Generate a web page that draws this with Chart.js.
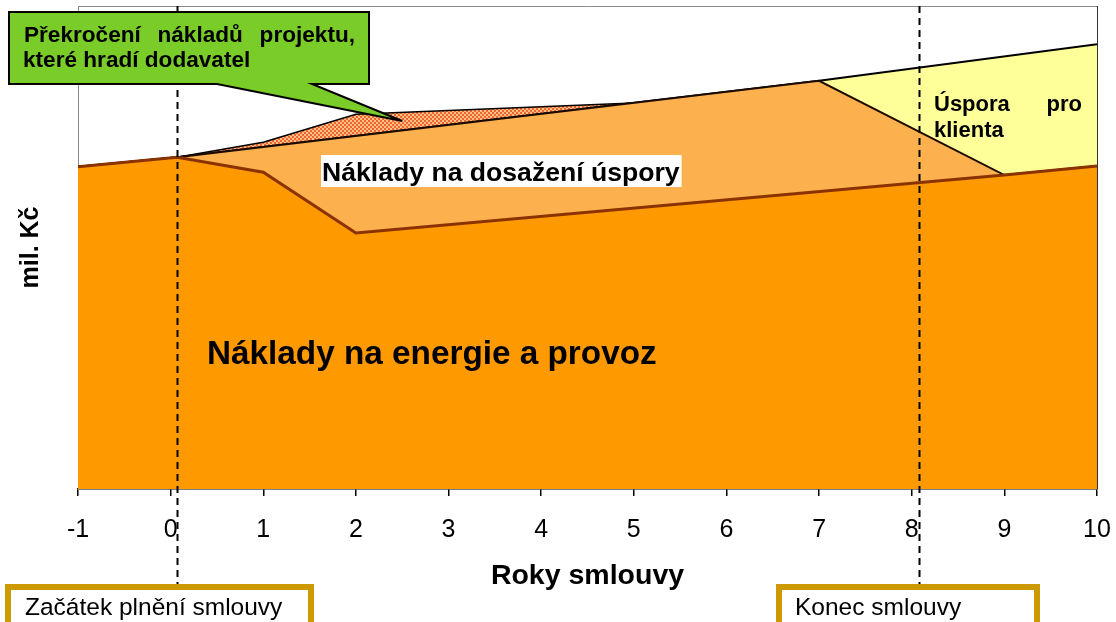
<!DOCTYPE html>
<html>
<head>
<meta charset="utf-8">
<script src="https://cdn.jsdelivr.net/npm/chart.js@4/dist/chart.umd.min.js"></script>
<style>
  html, body { margin: 0; padding: 0; background: #fff; }
  #stage { display: block; }
</style>
</head>
<body>
<canvas id="stage" width="1116" height="622"></canvas>
<script>
// roky smlouvy a náklady (mil. Kč, osa bez popisků)
const yearsEnergy   = [-1, 0.07, 1, 2, 9, 10];
const energyCost    = [66.7, 68.7, 65.6, 53.0, 65.0, 66.9];
const yearsSaving   = [-1, 0.07, 7, 9, 10];
const savingCost    = [66.7, 68.7, 84.5, 65.0, 66.9];
const yearsBaseline = [-1, 0.07, 7, 10];
const baselineCost  = [66.7, 68.7, 84.5, 92.1];
const yearsOverrun  = [0.07, 1, 2, 5];
const overrunCost   = [68.7, 71.8, 77.6, 79.9];
const milestones    = [0.07, 8.08];   // začátek plnění / konec smlouvy
const calloutTip    = [2.5, 76.2];    // kam míří bublina

const FONT = "'Liberation Sans', Arial, sans-serif";

function toPoints(xs, ys) {
  return xs.map((x, i) => ({x: x, y: ys[i]}));
}

// šrafování pro překročení nákladů
function makeHatch() {
  const c = document.createElement('canvas');
  c.width = 4; c.height = 4;
  const g = c.getContext('2d');
  g.fillStyle = '#FFC283';
  g.fillRect(0, 0, 4, 4);
  g.fillStyle = '#F06434';
  g.fillRect(0, 0, 2, 2);
  g.fillRect(2, 2, 2, 2);
  return g.createPattern(c, 'repeat');
}

function justified(ctx, words, x0, x1, y) {
  const widths = words.map(w => ctx.measureText(w).width);
  const total = widths.reduce((a, b) => a + b, 0);
  const gap = (x1 - x0 - total) / (words.length - 1);
  let x = x0;
  ctx.textAlign = 'left';
  words.forEach((w, i) => {
    ctx.fillText(w, x, y);
    x += widths[i] + gap;
  });
}

const annotations = {
  id: 'annotations',
  afterDraw(chart) {
    const ctx = chart.ctx;
    const xs = chart.scales.x, ys = chart.scales.y;
    const area = chart.chartArea;
    ctx.save();

    // rámeček grafu nahoře a vpravo
    ctx.strokeStyle = '#888';
    ctx.lineWidth = 1;
    ctx.beginPath();
    ctx.moveTo(area.left, area.top + 0.5);
    ctx.lineTo(area.right, area.top + 0.5);
    ctx.stroke();
    ctx.strokeStyle = '#333';
    ctx.beginPath();
    ctx.moveTo(area.right + 0.5, area.top);
    ctx.lineTo(area.right + 0.5, area.bottom);
    ctx.stroke();

    // svislé čárkované čáry
    ctx.strokeStyle = '#000';
    ctx.lineWidth = 2;
    ctx.setLineDash([7, 5]);
    milestones.forEach(m => {
      const px = Math.round(xs.getPixelForValue(m)) + 0.5;
      ctx.beginPath();
      ctx.moveTo(px, area.top);
      ctx.lineTo(px, 586);
      ctx.stroke();
    });
    ctx.setLineDash([]);

    ctx.fillStyle = '#000';
    ctx.textBaseline = 'alphabetic';

    // Náklady na dosažení úspory
    ctx.font = 'bold 26.6px ' + FONT;
    const t1 = 'Náklady na dosažení úspory';
    const w1 = ctx.measureText(t1).width;
    ctx.fillStyle = '#fff';
    ctx.fillRect(321, 155, w1 + 3, 32);
    ctx.fillStyle = '#000';
    ctx.textAlign = 'left';
    ctx.fillText(t1, 322, 181);

    // Úspora pro klienta
    ctx.font = 'bold 22px ' + FONT;
    justified(ctx, ['Úspora', 'pro'], 934, 1082, 111);
    ctx.fillText('klienta', 934, 137);

    // Náklady na energie a provoz
    ctx.font = 'bold 33.3px ' + FONT;
    ctx.fillText('Náklady na energie a provoz', 207, 364);

    // bublina
    const tipX = xs.getPixelForValue(calloutTip[0]);
    const tipY = ys.getPixelForValue(calloutTip[1]);
    ctx.beginPath();
    ctx.moveTo(9, 12);
    ctx.lineTo(369, 12);
    ctx.lineTo(369, 84);
    ctx.lineTo(312, 84);
    ctx.lineTo(tipX, tipY);
    ctx.lineTo(217, 84);
    ctx.lineTo(9, 84);
    ctx.closePath();
    ctx.fillStyle = '#7ACC29';
    ctx.fill();
    ctx.strokeStyle = '#000';
    ctx.lineWidth = 2;
    ctx.lineJoin = 'miter';
    ctx.stroke();
    ctx.fillStyle = '#000';
    ctx.font = 'bold 22.6px ' + FONT;
    justified(ctx, ['Překročení', 'nákladů', 'projektu,'], 24, 355, 42);
    ctx.fillText('které hradí dodavatel', 23, 67);

    // rámečky dole
    ctx.lineWidth = 6;
    ctx.strokeStyle = '#CC9900';
    ctx.fillStyle = '#fff';
    [[8, 587, 303], [779, 587, 258]].forEach(b => {
      ctx.fillRect(b[0], b[1], b[2], 60);
      ctx.strokeRect(b[0], b[1], b[2], 60);
    });
    ctx.fillStyle = '#000';
    ctx.font = '24.5px ' + FONT;
    ctx.fillText('Začátek plnění smlouvy', 25, 615);
    ctx.fillText('Konec smlouvy', 795, 615);

    ctx.restore();
  }
};

new Chart(document.getElementById('stage'), {
  type: 'line',
  data: {
    datasets: [
      {
        label: 'Náklady na energie a provoz',
        data: toPoints(yearsEnergy, energyCost),
        borderColor: '#8B3300',
        borderWidth: 3,
        backgroundColor: '#FF9900',
        fill: 'origin'
      },
      {
        label: 'Náklady na dosažení úspory',
        data: toPoints(yearsSaving, savingCost),
        borderColor: '#1A0A00',
        borderWidth: 2,
        backgroundColor: '#FDB04E',
        fill: '-1'
      },
      {
        label: 'Úspora pro klienta',
        data: toPoints(yearsBaseline, baselineCost),
        borderColor: '#000',
        borderWidth: 2,
        backgroundColor: '#FFFF99',
        fill: '-1'
      },
      {
        label: 'Překročení nákladů',
        data: toPoints(yearsOverrun, overrunCost),
        borderColor: '#000',
        borderWidth: 1.5,
        backgroundColor: makeHatch(),
        fill: '-1'
      }
    ]
  },
  options: {
    responsive: false,
    animation: false,
    layout: {padding: {top: 6, right: 19, left: 0, bottom: 0}},
    elements: {
      point: {radius: 0},
      line: {tension: 0}
    },
    plugins: {
      legend: {display: false},
      tooltip: {enabled: false}
    },
    scales: {
      x: {
        type: 'linear',
        min: -1,
        max: 10,
        ticks: {
          stepSize: 1,
          color: '#000',
          padding: 19,
          maxRotation: 0,
          font: {family: FONT, size: 25}
        },
        grid: {
          drawOnChartArea: false,
          drawTicks: true,
          tickLength: 7,
          color: '#000',
          lineWidth: 1.5
        },
        border: {color: '#000', width: 1.5},
        title: {
          display: true,
          text: 'Roky smlouvy',
          color: '#000',
          font: {family: FONT, size: 28.5, weight: 'bold'},
          padding: {top: 0, bottom: 29}
        },
        afterFit: s => {
          s.height = 133;
          s.paddingLeft = 0;
          s.paddingRight = 0;
        }
      },
      y: {
        min: 0,
        max: 100,
        ticks: {display: false},
        grid: {display: false},
        border: {color: '#888', width: 1},
        title: {
          display: true,
          text: 'mil. Kč',
          color: '#000',
          font: {family: FONT, size: 25, weight: 'bold'},
          padding: {top: 16, bottom: 0}
        },
        afterFit: s => { s.width = 78; }
      }
    }
  },
  plugins: [annotations]
});
</script>
</body>
</html>
